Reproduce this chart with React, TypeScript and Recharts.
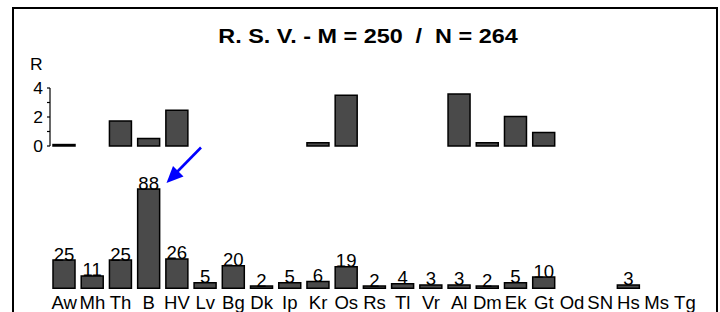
import React from 'react';
import { BarChart, Bar, XAxis, YAxis, LabelList } from 'recharts';

const categories = ['Aw', 'Mh', 'Th', 'B', 'HV', 'Lv', 'Bg', 'Dk', 'Ip', 'Kr', 'Os', 'Rs', 'Tl', 'Vr', 'Al', 'Dm', 'Ek', 'Gt', 'Od', 'SN', 'Hs', 'Ms', 'Tg'];
const rValues: (number | null)[] = [0.1, null, 1.73, 0.52, 2.47, null, null, null, null, 0.22, 3.5, null, null, null, 3.58, 0.22, 2.04, 0.93, null, null, null, null, null];
const counts: (number | null)[] = [25, 11, 25, 88, 26, 5, 20, 2, 5, 6, 19, 2, 4, 3, 3, 2, 5, 10, null, null, 3, null, null];
const rTicks = [0, 1, 2, 3, 4];
const rTickLabels: Record<number, string> = { 0: '0', 2: '2', 4: '4' };
const titleText = 'R. S. V. - M = 250  /  N = 264';
const rAxisTitle = 'R';

const topData = categories.map((c, i) => ({ cat: c, r: rValues[i] }));
const bottomData = categories.map((c, i) => ({ cat: c, n: counts[i] }));

const FONT = '"Liberation Sans", Arial, Helvetica, sans-serif';
const BAR_FILL = '#4a4a4a';

const XTick = (props: any) => {
  const { x, y, payload } = props;
  return (
    <g transform={`translate(${x},${y}) scale(1.06,1)`}>
      <text x={0} y={0} dy="0.71em" textAnchor="middle" fontFamily={FONT} fontSize={17.5} fill="#000">
        {payload.value}
      </text>
    </g>
  );
};

const YTick = (props: any) => {
  const { x, y, payload } = props;
  const label = rTickLabels[payload.value];
  if (!label) return null;
  return (
    <g transform={`translate(${x},${y}) scale(1.06,1)`}>
      <text x={0} y={0} dy="0.36em" textAnchor="end" fontFamily={FONT} fontSize={16.5} fill="#000">
        {label}
      </text>
    </g>
  );
};

const TopLabel = (props: any) => {
  const { x, y, width, value } = props;
  if (value === null || value === undefined) return null;
  return (
    <g transform={`translate(${x + width / 2},${y + 0.5}) scale(1.06,1)`}>
      <text x={0} y={0} textAnchor="middle" fontFamily={FONT} fontSize={17.5} fill="#000">
        {value}
      </text>
    </g>
  );
};

export default function App() {
  return (
    <div style={{ position: 'absolute', left: 0, top: 0, width: 720, height: 312, overflow: 'hidden', background: '#fff' }}>
      <div
        style={{
          position: 'absolute',
          left: 12,
          top: 7,
          width: 706,
          height: 340,
          border: '2px solid #000',
          boxSizing: 'border-box',
        }}
      />
      <div style={{ position: 'absolute', left: 0, top: 0 }}>
        <BarChart width={720} height={160} data={topData} margin={{ top: 88, right: 21, bottom: 14, left: 0 }}>
          <XAxis dataKey="cat" hide />
          <YAxis
            width={50}
            domain={[0, 4]}
            ticks={rTicks}
            interval={0}
            tickSize={3}
            tickMargin={4}
            axisLine={{ stroke: '#000', strokeWidth: 1.2 }}
            tickLine={{ stroke: '#000', strokeWidth: 1.2 }}
            tick={<YTick />}
          />
          <Bar dataKey="r" fill={BAR_FILL} stroke="#000" strokeWidth={1.5} barSize={22} isAnimationActive={false} />
        </BarChart>
      </div>
      <div style={{ position: 'absolute', left: 0, top: 150 }}>
        <BarChart width={720} height={162} data={bottomData} margin={{ top: 25.5, right: 21, bottom: 0, left: 50 }}>
          <XAxis
            dataKey="cat"
            height={23.7}
            interval={0}
            axisLine={false}
            tickLine={false}
            tickSize={6}
            tickMargin={2}
            tick={<XTick />}
          />
          <YAxis hide domain={[0, 100]} />
          <Bar dataKey="n" fill={BAR_FILL} stroke="#000" strokeWidth={1.5} barSize={22} isAnimationActive={false}>
            <LabelList dataKey="n" content={<TopLabel />} />
          </Bar>
        </BarChart>
      </div>
      <svg width={720} height={312} style={{ position: 'absolute', left: 0, top: 0, pointerEvents: 'none' }}>
        <g transform="translate(368,43.3) scale(1.2,1)">
          <text x={0} y={0} textAnchor="middle" fontFamily={FONT} fontSize={19.5} fontWeight="bold" fill="#000" style={{ whiteSpace: 'pre' }}>
            {titleText}
          </text>
        </g>
        <g transform="translate(30,70) scale(1.06,1)">
          <text x={0} y={0} fontFamily={FONT} fontSize={16.5} fill="#000">
            {rAxisTitle}
          </text>
        </g>
        <line x1={201} y1={147.5} x2={176} y2={173} stroke="#0000ff" strokeWidth={2.6} />
        <polygon points="166.5,183 173,166 183.5,176.5" fill="#0000ff" />
      </svg>
    </div>
  );
}
